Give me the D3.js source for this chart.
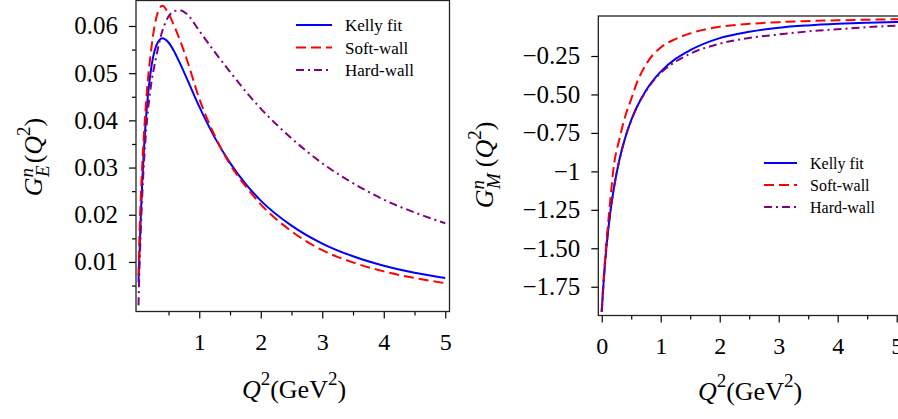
<!DOCTYPE html>
<html>
<head>
<meta charset="utf-8">
<title>Neutron form factors</title>
<style>
    body { margin: 0; background: #fff; }
    svg text { font-family: "Liberation Serif", "Times New Roman", serif; fill: #000; }
    .frame { fill: none; stroke: #222; stroke-width: 1.3; }
    .tick line { stroke: #000; stroke-width: 1.2; }
    .curve { fill: none; stroke-width: 2; }
</style>
</head>
<body>
<div id="chart"></div>
<script src="https://cdnjs.cloudflare.com/ajax/libs/d3/7.8.5/d3.min.js"></script>
<script>
// left panel: electric form factor G_E^n vs Q^2 (GeV^2)
var qE = [0.012, 0.02, 0.05, 0.1, 0.15, 0.2, 0.3, 0.4, 0.5, 0.6, 0.7, 0.8, 1.0, 1.25, 1.5, 1.75, 2.0, 2.5, 3.0, 3.5, 4.0, 4.5, 5.0];
var kellyE = [0.0057, 0.0090, 0.0201, 0.0339, 0.0432, 0.0494, 0.0558, 0.0574, 0.0565, 0.0544, 0.0517, 0.0488, 0.0429, 0.0364, 0.0310, 0.0266, 0.0230, 0.0177, 0.0139, 0.0112, 0.0092, 0.0077, 0.0066];
var softE = [0.0070, 0.0120, 0.0240, 0.0370, 0.0465, 0.0530, 0.0617, 0.0643, 0.0626, 0.0598, 0.0565, 0.0528, 0.0446, 0.0368, 0.0307, 0.0261, 0.0222, 0.0165, 0.0125, 0.0099, 0.0080, 0.0066, 0.0055];
var hardE = [0.0008, 0.0052, 0.0170, 0.0310, 0.0400, 0.0460, 0.0535, 0.0590, 0.0620, 0.0632, 0.0633, 0.0625, 0.0590, 0.0545, 0.0503, 0.0462, 0.0425, 0.0362, 0.0309, 0.0267, 0.0232, 0.0205, 0.0182];

// right panel: magnetic form factor G_M^n
var qM = [0, 0.02, 0.05, 0.1, 0.15, 0.2, 0.3, 0.4, 0.5, 0.6, 0.75, 1.0, 1.25, 1.5, 2.0, 2.5, 3.0, 3.5, 4.0, 4.5, 5.0, 5.2];
var kellyM = [-1.913, -1.788, -1.628, -1.417, -1.254, -1.123, -0.925, -0.779, -0.667, -0.578, -0.474, -0.352, -0.269, -0.212, -0.134, -0.093, -0.066, -0.051, -0.041, -0.034, -0.029, -0.028];
var softM = [-1.913, -1.77, -1.60, -1.37, -1.17, -0.98, -0.79, -0.64, -0.53, -0.42, -0.305, -0.195, -0.140, -0.103, -0.060, -0.041, -0.030, -0.023, -0.018, -0.014, -0.011, -0.010];
var hardM = [-1.913, -1.788, -1.628, -1.417, -1.254, -1.123, -0.925, -0.779, -0.668, -0.580, -0.478, -0.360, -0.287, -0.235, -0.170, -0.133, -0.110, -0.090, -0.076, -0.063, -0.053, -0.051];

var seriesNames = ['Kelly fit', 'Soft-wall', 'Hard-wall'];

// ticks
var leftYTicks = [0.01, 0.02, 0.03, 0.04, 0.05, 0.06];
var leftYLabels = ['0.01', '0.02', '0.03', '0.04', '0.05', '0.06'];
var leftYMinor = [0.005, 0.015, 0.025, 0.035, 0.045, 0.055];
var leftXTicks = [1, 2, 3, 4, 5];
var rightXTicks = [0, 1, 2, 3, 4, 5];
var xMinor = [0.5, 1.5, 2.5, 3.5, 4.5];
var rightYTicks = [-0.25, -0.5, -0.75, -1, -1.25, -1.5, -1.75];
var rightYLabels = ['\u22120.25', '\u22120.50', '\u22120.75', '\u22121', '\u22121.25', '\u22121.50', '\u22121.75'];

var serif = '"Liberation Serif", "Times New Roman", serif';

var styles = [
    {color: '#0000ff', dash: null},
    {color: '#ff0000', dash: '10,5'},
    {color: '#800080', dash: '8,4,2,4'}
];

var svg = d3.select('#chart').append('svg')
        .attr('width', 898)
        .attr('height', 419);

function yTitle(cx, cy, sub, subShift) {
    var t = svg.append('text')
            .attr('transform', 'translate(' + cx + ',' + cy + ') rotate(-90)')
            .attr('text-anchor', 'middle')
            .style('font-size', '26px');
    t.append('tspan').style('font-style', 'italic').text('G');
    t.append('tspan').style('font-style', 'italic').style('font-size', '19px').attr('dy', -9).text('n');
    t.append('tspan').style('font-style', 'italic').style('font-size', '19px')
            .attr('dx', -9).attr('dy', 16).text(sub);
    t.append('tspan').attr('dx', subShift).attr('dy', -7).text('(');
    t.append('tspan').style('font-style', 'italic').text('Q');
    t.append('tspan').style('font-size', '19px').attr('dy', -12).text('2');
    t.append('tspan').attr('dy', 12).text(')');
}

function xTitle(cx, cy) {
    var t = svg.append('text')
            .attr('x', cx).attr('y', cy)
            .attr('text-anchor', 'middle')
            .style('font-size', '26px');
    t.append('tspan').style('font-style', 'italic').text('Q');
    t.append('tspan').style('font-size', '19px').attr('dy', -13).text('2');
    t.append('tspan').attr('dy', 13).text('(GeV');
    t.append('tspan').style('font-size', '19px').attr('dy', -13).text('2');
    t.append('tspan').attr('dy', 13).text(')');
}

function panel(o) {
    var g = svg.append('g');
    var x = d3.scaleLinear().domain(o.xDomain).range([o.left, o.right]);
    var y = d3.scaleLinear().domain(o.yDomain).range([o.bottom, o.top]);

    // curves, clipped to frame
    var clipId = 'clip' + o.id;
    svg.append('clipPath').attr('id', clipId).append('rect')
            .attr('x', o.left).attr('y', o.top)
            .attr('width', o.right - o.left).attr('height', o.bottom - o.top);

    var line = d3.line()
            .x(function (d) { return x(d[0]); })
            .y(function (d) { return y(d[1]); })
            .curve(d3.curveMonotoneX);

    o.series.forEach(function (vals, i) {
        g.append('path')
                .attr('class', 'curve')
                .attr('clip-path', 'url(#' + clipId + ')')
                .attr('d', line(o.q.map(function (q, j) { return [q, vals[j]]; })))
                .attr('stroke', styles[i].color)
                .attr('stroke-dasharray', styles[i].dash);
    });

    // axes
    var yAxis = d3.axisLeft(y).tickValues(o.yTicks)
            .tickFormat(function (d, i) { return o.yLabels[i]; })
            .tickSize(7).tickPadding(11);
    var gy = g.append('g').attr('transform', 'translate(' + o.left + ',0)').call(yAxis)
            .attr('font-family', serif).attr('font-size', 25);
    gy.selectAll('text').style('font-family', serif).style('font-size', '25px');

    if (o.yMinor) {
        g.append('g').attr('transform', 'translate(' + o.left + ',0)')
                .call(d3.axisLeft(y).tickValues(o.yMinor).tickFormat('').tickSize(4));
    }

    var xAxis = d3.axisBottom(x).tickValues(o.xTicks).tickFormat(d3.format('d')).tickSize(7);
    var gx = g.append('g').attr('transform', 'translate(0,' + o.bottom + ')').call(xAxis)
            .attr('font-family', serif).attr('font-size', 24);
    gx.selectAll('text').style('font-family', serif).style('font-size', '24px')
            .attr('y', o.xLabelY).attr('dy', null);

    g.append('g').attr('transform', 'translate(0,' + o.bottom + ')')
            .call(d3.axisBottom(x).tickValues(xMinor).tickFormat('').tickSize(4));

    g.selectAll('.domain').remove();
    g.selectAll('.tick line').attr('stroke', '#000');

    g.append('rect').attr('class', 'frame')
            .attr('x', o.left).attr('y', o.top)
            .attr('width', o.right - o.left).attr('height', o.bottom - o.top);

    // legend
    var lg = g.append('g').attr('transform', 'translate(' + o.legend[0] + ',' + o.legend[1] + ')');
    seriesNames.forEach(function (name, i) {
        var row = lg.append('g').attr('transform', 'translate(0,' + i * o.legendGap + ')');
        row.append('line')
                .attr('x1', 0).attr('x2', o.legendLine)
                .attr('y1', 0).attr('y2', 0)
                .attr('stroke', styles[i].color)
                .attr('stroke-width', 2)
                .attr('stroke-dasharray', styles[i].dash);
        row.append('text')
                .attr('x', o.legendLine + 13).attr('y', 6)
                .style('font-size', o.legendFont)
                .text(name);
    });
}

panel({
    id: 'E',
    left: 136, right: 449.5, top: 0.5, bottom: 311.5,
    xDomain: [-0.029, 5.069], yDomain: [-0.0005, 0.0654],
    q: qE, series: [kellyE, softE, hardE],
    yTicks: leftYTicks, yLabels: leftYLabels, yMinor: leftYMinor,
    xTicks: leftXTicks, xLabelY: 38,
    legend: [296, 25], legendGap: 22.5, legendLine: 36, legendFont: '17px'
});

panel({
    id: 'M',
    left: 598.3, right: 908.5, top: 16, bottom: 315.5,
    xDomain: [-0.058, 5.2], yDomain: [-1.937, 0.010],
    q: qM, series: [kellyM, softM, hardM],
    yTicks: rightYTicks, yLabels: rightYLabels, yMinor: null,
    xTicks: rightXTicks, xLabelY: 38,
    legend: [764, 163], legendGap: 22, legendLine: 33, legendFont: '16px'
});

yTitle(42, 157, 'E', 2);
yTitle(493, 165, 'M', 6);
xTitle(294, 398);
xTitle(750, 400);
</script>
</body>
</html>
